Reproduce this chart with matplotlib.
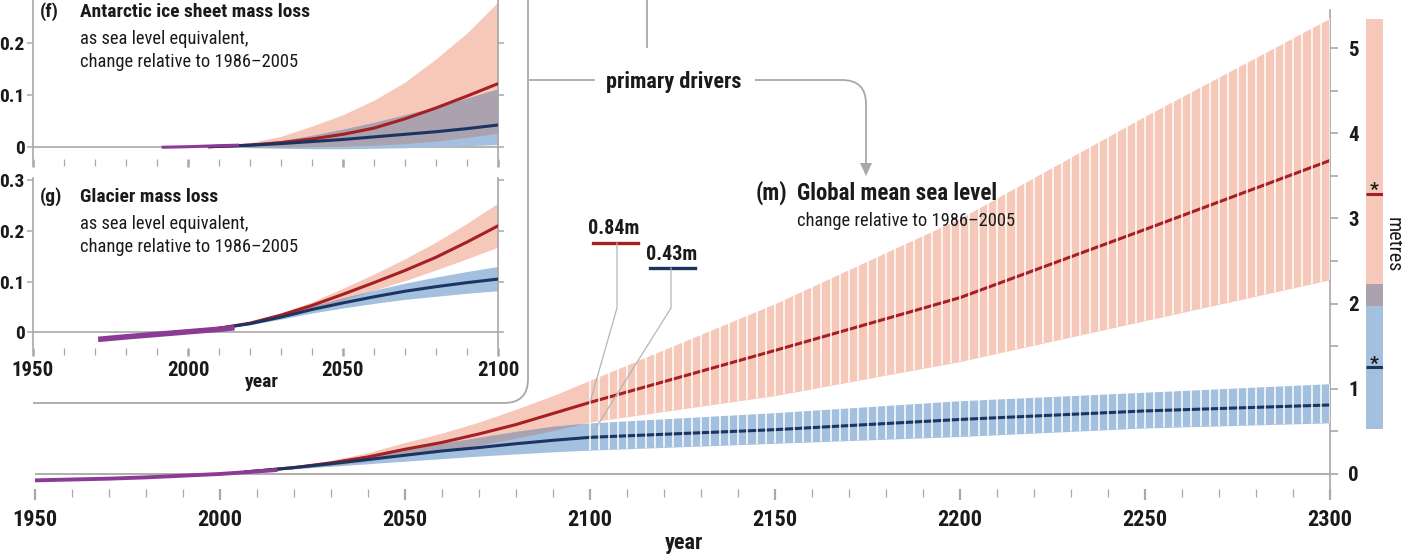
import numpy as np
import matplotlib
matplotlib.use('Agg')
import matplotlib.pyplot as plt
from matplotlib import font_manager
from matplotlib.path import Path
from matplotlib.patches import PathPatch, Polygon
from matplotlib.lines import Line2D

# narrow humanist-ish font if one is around
installed = {f.name for f in font_manager.fontManager.ttflist}
family = 'DejaVu Sans'
for cand in ['Liberation Sans Narrow', 'Roboto Condensed', 'Open Sans Condensed', 'Liberation Sans']:
    if cand in installed:
        family = cand
        break
plt.rcParams['font.family'] = [family, 'DejaVu Sans']

# ---------------- data (metres) ----------------
# (m) global mean sea level, change relative to 1986-2005
gm_hist_years = [1950, 1960, 1970, 1980, 1990, 2000, 2010, 2015]
gm_hist = [-0.075, -0.065, -0.055, -0.04, -0.02, 0.0, 0.03, 0.045]

gm_years = [2007, 2010, 2020, 2030, 2040, 2050, 2060, 2070, 2080, 2090, 2100, 2150, 2200, 2250, 2300]
rcp85_med = [0.025, 0.035, 0.075, 0.13, 0.20, 0.29, 0.37, 0.47, 0.58, 0.71, 0.84, 1.45, 2.07, 2.87, 3.68]
rcp85_lo = [0.025, 0.03, 0.065, 0.10, 0.15, 0.21, 0.27, 0.34, 0.42, 0.51, 0.61, 0.92, 1.32, 1.80, 2.28]
rcp85_hi = [0.025, 0.04, 0.09, 0.16, 0.25, 0.37, 0.48, 0.61, 0.76, 0.92, 1.10, 2.00, 3.00, 4.20, 5.35]
rcp26_med = [0.025, 0.035, 0.075, 0.12, 0.17, 0.22, 0.27, 0.31, 0.355, 0.395, 0.43, 0.52, 0.64, 0.74, 0.81]
rcp26_lo = [0.025, 0.03, 0.06, 0.09, 0.12, 0.15, 0.18, 0.21, 0.235, 0.26, 0.28, 0.36, 0.44, 0.54, 0.60]
rcp26_hi = [0.025, 0.04, 0.09, 0.15, 0.22, 0.29, 0.36, 0.43, 0.50, 0.56, 0.60, 0.72, 0.86, 0.96, 1.06]

# bars at right of (m): [RCP8.5, RCP2.6]
bar_lo = [1.97, 0.53]
bar_hi = [5.34, 2.23]
bar_star = [3.29, 1.25]

# (f) Antarctic ice sheet mass loss
f_hist_years = [1992, 2000, 2010, 2016]
f_hist = [-0.001, 0.0, 0.002, 0.003]
f_years = [2007, 2020, 2030, 2040, 2050, 2060, 2070, 2080, 2090, 2100]
f85_med = [0.0, 0.003, 0.008, 0.015, 0.024, 0.036, 0.054, 0.075, 0.098, 0.122]
f85_lo = [0.0, -0.001, -0.001, 0.0, 0.001, 0.003, 0.006, 0.011, 0.018, 0.026]
f85_hi = [0.0, 0.008, 0.02, 0.04, 0.062, 0.09, 0.125, 0.17, 0.22, 0.28]
f26_med = [0.0, 0.003, 0.006, 0.010, 0.014, 0.019, 0.024, 0.029, 0.035, 0.042]
f26_lo = [0.0, -0.002, -0.003, -0.004, -0.004, -0.003, -0.002, 0.0, 0.002, 0.004]
f26_hi = [0.0, 0.006, 0.012, 0.022, 0.034, 0.047, 0.062, 0.077, 0.094, 0.112]

# (g) Glacier mass loss
g_hist_years = [1971, 1980, 1990, 2000, 2010, 2015]
g_hist = [-0.014, -0.009, -0.004, 0.001, 0.006, 0.009]
g_years = [2007, 2020, 2030, 2040, 2050, 2060, 2070, 2080, 2090, 2100]
g85_med = [0.005, 0.018, 0.034, 0.053, 0.075, 0.098, 0.122, 0.148, 0.178, 0.21]
g85_lo = [0.005, 0.016, 0.030, 0.046, 0.064, 0.083, 0.102, 0.123, 0.145, 0.168]
g85_hi = [0.005, 0.020, 0.038, 0.060, 0.087, 0.115, 0.145, 0.178, 0.215, 0.255]
g26_med = [0.005, 0.017, 0.030, 0.045, 0.058, 0.070, 0.081, 0.090, 0.098, 0.105]
g26_lo = [0.005, 0.015, 0.026, 0.038, 0.048, 0.057, 0.065, 0.071, 0.077, 0.082]
g26_hi = [0.005, 0.019, 0.035, 0.052, 0.068, 0.083, 0.097, 0.109, 0.120, 0.130]

# ---------------- colours ----------------
salmon = '#f6c8ba'
lightblue = '#a4c0df'
overlap = '#aaa2af'
darkred = '#a61f22'
navy = '#1c3461'
purple = '#8b3a96'
grey = '#a8a8a8'
ink = '#1a1a1a'

W, H = 1402, 557
fig = plt.figure(figsize=(W / 100, H / 100), dpi=100)


def fx(x):
    return x / W


def fy(y):
    return 1 - y / H


def add_axes_px(l, t, r, b):
    return fig.add_axes([fx(l), fy(b), (r - l) / W, (b - t) / H])


def fig_line(xs, ys, **kw):
    fig.add_artist(Line2D([fx(v) for v in xs], [fy(v) for v in ys],
                          transform=fig.transFigure, **kw))


def data_to_px(ax, x, y):
    fxy = fig.transFigure.inverted().transform(ax.transData.transform((x, y)))
    return fxy[0] * W, (1 - fxy[1]) * H


def bands(ax, years, lo85, hi85, lo26, hi26):
    lo85, hi85, lo26, hi26 = map(np.array, (lo85, hi85, lo26, hi26))
    p85 = ax.fill_between(years, lo85, hi85, color=salmon, lw=0, zorder=1)
    p26 = ax.fill_between(years, lo26, hi26, color=lightblue, lw=0, zorder=1.2)
    olo = np.maximum(lo85, lo26)
    ohi = np.minimum(hi85, hi26)
    ax.fill_between(years, olo, ohi, where=olo < ohi, interpolate=True,
                    color=overlap, lw=0, zorder=1.4)
    return p85, p26


def bold_labels(labels):
    for t in labels:
        t.set_fontweight('bold')


# ---------------- (m) main panel ----------------
ax = add_axes_px(35, 9.7, 1330, 489.3)
ax.set_xlim(1950, 2300)
ax.set_ylim(-0.18, 5.45)
for s in ['left', 'top', 'bottom']:
    ax.spines[s].set_visible(False)
ax.spines['right'].set_color(grey)
ax.spines['right'].set_linewidth(1.2)
ax.yaxis.tick_right()
ax.set_yticks(range(0, 6))
ax.set_yticks(np.arange(0.5, 5.1, 1.0), minor=True)
ax.tick_params(axis='y', which='both', length=6, width=1.2, color=grey, pad=7,
               labelsize=15, labelcolor=ink)
ax.set_xticks(range(1950, 2301, 50))
ax.set_xticks(range(1950, 2301, 10), minor=True)
ax.tick_params(axis='x', which='major', length=8, width=1.6, color=grey, pad=6,
               labelsize=16, labelcolor=ink)
ax.tick_params(axis='x', which='minor', length=6, width=0.9, color=grey)
bold_labels(ax.get_xticklabels() + ax.get_yticklabels())
ax.axhline(0, color=grey, lw=1.3, zorder=0.5)

p85, p26 = bands(ax, gm_years, rcp85_lo, rcp85_hi, rcp26_lo, rcp26_hi)
ax.plot(gm_years, rcp85_med, color=darkred, lw=2.2, zorder=3)
ax.plot(gm_years, rcp26_med, color=navy, lw=2.2, zorder=3)
ax.plot(gm_hist_years, gm_hist, color=purple, lw=2.8, zorder=5)

# white gaps splitting the post-2100 ranges into stripes
gaps = np.arange(2100, 2300.1, 2.5)
for poly in (p85, p26):
    vl = ax.vlines(gaps, -1, 6, colors='white', lw=1.1, zorder=4)
    vl.set_clip_path(poly.get_paths()[0], ax.transData)

# labels for 2100 medians
i2100 = gm_years.index(2100)
x85, y85 = data_to_px(ax, 2100, rcp85_med[i2100])
x26, y26 = data_to_px(ax, 2100, rcp26_med[i2100])
fig.text(fx(614), fy(229), f'{rcp85_med[i2100]:.2f}m', ha='center', va='center',
         fontsize=14.5, fontweight='bold', color=ink)
fig_line([593, 638], [243, 243], color=darkred, lw=2.4)
fig_line([617, 617, x85], [243, 308, y85], color='#b5b5b5', lw=0.9)
fig.text(fx(672), fy(255), f'{rcp26_med[i2100]:.2f}m', ha='center', va='center',
         fontsize=14.5, fontweight='bold', color=ink)
fig_line([650, 695], [268, 268], color=navy, lw=2.4)
fig_line([671, 671, x26], [268, 308, y26], color='#b5b5b5', lw=0.9)

fig.text(fx(756), fy(193), '(m)', ha='left', va='center', fontsize=16.5,
         fontweight='bold', color=ink)
fig.text(fx(797), fy(193), 'Global mean sea level', ha='left', va='center',
         fontsize=16.5, fontweight='bold', color=ink)
fig.text(fx(797), fy(221), 'change relative to 1986\u20132005', ha='left',
         va='center', fontsize=13.3, color=ink)
fig.text(fx(684), fy(543), 'year', ha='center', va='center', fontsize=16,
         fontweight='bold', color=ink)

# right-hand bars
axb = add_axes_px(1366, 9.7, 1383, 489.3)
axb.set_xlim(0, 1)
axb.set_ylim(ax.get_ylim())
axb.axis('off')
axb.bar(0.5, bar_hi[0] - bar_lo[0], bottom=bar_lo[0], width=1, color=salmon, lw=0)
axb.bar(0.5, bar_hi[1] - bar_lo[1], bottom=bar_lo[1], width=1, color=lightblue, lw=0)
axb.bar(0.5, bar_hi[1] - bar_lo[0], bottom=bar_lo[0], width=1, color=overlap, lw=0)
axb.hlines(bar_star[0], 0, 1, color=darkred, lw=2.2)
axb.hlines(bar_star[1], 0, 1, color=navy, lw=2.2)
for v in bar_star:
    axb.text(0.5, v - 0.06, '*', ha='center', va='bottom', fontsize=14,
             fontweight='bold', color=ink)
fig.text(fx(1393), fy(245), 'metres', rotation=270, ha='center', va='center',
         fontsize=14.5, color=ink)


# ---------------- insets ----------------
def style_panel(a, ylim, show_x):
    a.set_xlim(1950, 2100)
    a.set_ylim(*ylim)
    for s in ['top', 'bottom']:
        a.spines[s].set_visible(False)
    for s in ['left', 'right']:
        a.spines[s].set_color(grey)
        a.spines[s].set_linewidth(1.2)
    a.set_xticks(range(1950, 2101, 50))
    a.set_xticks(range(1950, 2101, 10), minor=True)
    a.tick_params(axis='x', which='major', length=6, width=1.8, color=grey,
                  labelbottom=show_x, labelsize=15, labelcolor=ink, pad=4)
    a.tick_params(axis='x', which='minor', length=5, width=0.9, color=grey)
    a.set_yticks([0, 0.1, 0.2, 0.3])
    a.set_yticklabels(['0', '0.1', '0.2', '0.3'])
    a.tick_params(axis='y', left=True, right=True, length=4, width=1.1,
                  color=grey, labelsize=14, labelcolor=ink, pad=2)
    bold_labels(a.get_xticklabels() + a.get_yticklabels())
    a.axhline(0, color=grey, lw=1.2, zorder=0.5)


axf = add_axes_px(33, -18.7, 498, 158.6)
style_panel(axf, (-0.023, 0.32), False)
bands(axf, f_years, f85_lo, f85_hi, f26_lo, f26_hi)
axf.plot(f_years, f85_med, color=darkred, lw=2.2, zorder=3)
axf.plot(f_years, f26_med, color=navy, lw=2.2, zorder=3)
axf.plot(f_hist_years, f_hist, color=purple, lw=2.2, zorder=5)

axg = add_axes_px(33, 177.7, 498, 347.5)
style_panel(axg, (-0.03, 0.305), True)
bands(axg, g_years, g85_lo, g85_hi, g26_lo, g26_hi)
axg.plot(g_years, g85_med, color=darkred, lw=2.2, zorder=3)
axg.plot(g_years, g26_med, color=navy, lw=2.2, zorder=3)
axg.plot(g_hist_years, g_hist, color=purple, lw=4, zorder=5, solid_capstyle='butt')

for lab, title, y0 in [('(f)', 'Antarctic ice sheet mass loss', 12),
                       ('(g)', 'Glacier mass loss', 197)]:
    fig.text(fx(40), fy(y0), lab, ha='left', va='center', fontsize=14,
             fontweight='bold', color=ink)
    fig.text(fx(80), fy(y0), title, ha='left', va='center', fontsize=14,
             fontweight='bold', color=ink)
    fig.text(fx(80), fy(y0 + 27), 'as sea level equivalent,', ha='left',
             va='center', fontsize=13.3, color=ink)
    fig.text(fx(80), fy(y0 + 50), 'change relative to 1986\u20132005', ha='left',
             va='center', fontsize=13.3, color=ink)
fig.text(fx(262), fy(382), 'year', ha='center', va='center', fontsize=14,
         fontweight='bold', color=ink)

# ---------------- frame and connectors ----------------
box = Path([(fx(33), fy(403)), (fx(504), fy(403)), (fx(528), fy(403)),
            (fx(528), fy(379)), (fx(528), fy(-5))],
           [Path.MOVETO, Path.LINETO, Path.CURVE3, Path.CURVE3, Path.LINETO])
fig.add_artist(PathPatch(box, fill=False, ec=grey, lw=1.3, transform=fig.transFigure))
fig_line([647, 647], [-5, 47], color=grey, lw=1.3)
fig_line([530, 594], [80, 80], color=grey, lw=1.3)
fig.text(fx(674), fy(82), 'primary drivers', ha='center', va='center',
         fontsize=16, fontweight='bold', color=ink)
arrow = Path([(fx(755), fy(80)), (fx(842), fy(80)), (fx(866), fy(80)),
              (fx(866), fy(104)), (fx(866), fy(166))],
             [Path.MOVETO, Path.LINETO, Path.CURVE3, Path.CURVE3, Path.LINETO])
fig.add_artist(PathPatch(arrow, fill=False, ec=grey, lw=1.3, transform=fig.transFigure))
fig.add_artist(Polygon([(fx(860), fy(163)), (fx(872), fy(163)), (fx(866), fy(176))],
                       closed=True, fc=grey, ec='none', transform=fig.transFigure))

fig.savefig('out.png', dpi=100)
